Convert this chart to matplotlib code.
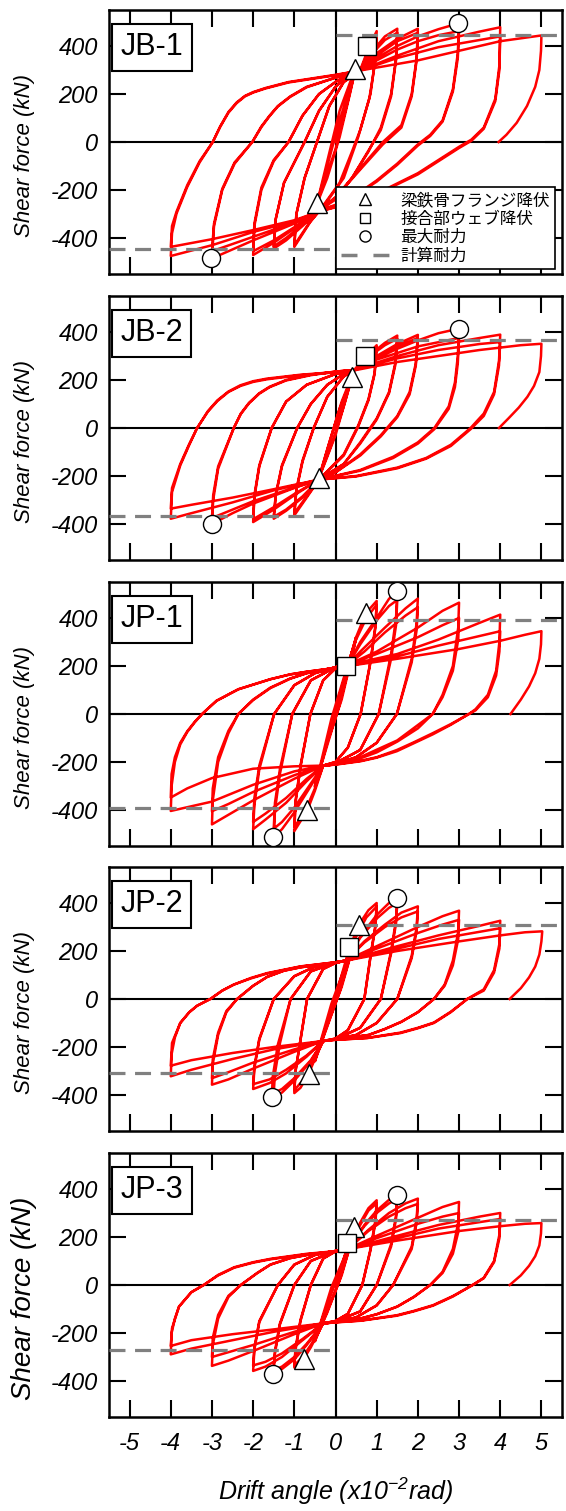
import matplotlib
matplotlib.use("Agg")
import matplotlib.pyplot as plt
from matplotlib.lines import Line2D

plt.rcParams["font.family"] = ["Liberation Sans", "Noto Sans CJK JP"]
plt.rcParams["axes.unicode_minus"] = False
plt.rcParams["mathtext.fontset"] = "custom"
plt.rcParams["mathtext.rm"] = "Liberation Sans:italic"
plt.rcParams["mathtext.it"] = "Liberation Sans:italic"

# ---- data: (drift angle x1e-2 rad, shear force kN) ----

JB1_PATH = [
    (0, 0), (0.2, 130), (0.48, 300),
    (0.35, 200), (0.1, 20), (-0.2, -150), (-0.45, -258),
    (-0.2, -100), (0.1, 90), (0.48, 298),
    (0.3, 170), (0.0, -30), (-0.45, -255),
    # 1%
    (-0.2, -80), (0.1, 130), (0.4, 270), (0.6, 300), (0.8, 390), (1.0, 462),
    (0.97, 350), (0.85, 200), (0.6, 50), (0.4, -40), (0.1, -170), (-0.3, -265), (-0.6, -330), (-1.0, -437),
    (-0.95, -300), (-0.75, -150), (-0.45, 0), (-0.15, 150), (0.2, 250), (0.6, 295), (0.8, 380), (1.0, 445),
    (0.96, 330), (0.82, 180), (0.55, 20), (0.2, -150), (-0.3, -270), (-0.65, -340), (-1.0, -430),
    # 1.5%
    (-0.95, -300), (-0.75, -150), (-0.45, 0), (-0.15, 150), (0.2, 250), (0.6, 298), (0.9, 380), (1.2, 440), (1.5, 472),
    (1.47, 350), (1.35, 200), (1.1, 60), (0.8, -40), (0.4, -150), (0.0, -240), (-0.4, -285), (-0.8, -350), (-1.2, -410), (-1.5, -444),
    (-1.45, -320), (-1.25, -170), (-0.75, 0), (-0.4, 130), (0.0, 230), (0.3, 275), (0.6, 298), (0.9, 370), (1.2, 425), (1.5, 455),
    (1.47, 340), (1.35, 190), (1.1, 50), (0.75, -50), (0.4, -150), (0.0, -235), (-0.4, -285), (-0.8, -345), (-1.2, -400), (-1.5, -435),
    # 2%
    (-1.45, -320), (-1.25, -170), (-0.75, 0), (-0.4, 130), (0.0, 230), (0.3, 275), (0.6, 298), (1.0, 370), (1.5, 430), (2.0, 472),
    (1.97, 350), (1.85, 200), (1.6, 70), (1.15, 0), (0.6, -110), (0.0, -230), (-0.4, -285), (-1.0, -360), (-1.5, -420), (-2.0, -471),
    (-1.97, -350), (-1.8, -200), (-1.5, -80), (-1.14, 0), (-0.8, 110), (-0.4, 200), (0.0, 250), (0.3, 280), (0.6, 298), (1.0, 360), (1.5, 420), (2.0, 455),
    (1.97, 340), (1.85, 190), (1.6, 60), (1.15, -10), (0.6, -115), (0.0, -232), (-0.4, -285), (-1.0, -355), (-1.5, -410), (-2.0, -455),
    # 3%
    (-1.97, -340), (-1.8, -190), (-1.5, -75), (-1.14, 0), (-0.8, 110), (-0.4, 200), (0.0, 250), (0.3, 280), (0.6, 298), (1.0, 350), (1.5, 400), (2.0, 440), (2.5, 470), (3.0, 495),
    (2.97, 370), (2.85, 220), (2.6, 90), (2.3, 30), (2.0, -10), (1.5, -90), (1.0, -160), (0.5, -220), (0.0, -262), (-0.4, -285), (-1.0, -340), (-2.0, -410), (-3.0, -485),
    (-2.95, -350), (-2.75, -200), (-2.45, -90), (-2.02, 0), (-1.8, 65), (-1.6, 110), (-1.4, 150), (-1.1, 190), (-0.7, 230), (0.0, 268), (0.6, 298), (1.0, 340), (1.5, 385), (2.0, 420), (2.5, 445), (3.0, 462),
    (2.97, 350), (2.85, 210), (2.6, 85), (2.3, 25), (2.0, -15), (1.5, -95), (1.0, -165), (0.5, -222), (0.0, -265), (-0.4, -287), (-1.0, -335), (-2.0, -395), (-3.0, -455),
    # 4%
    (-2.95, -340), (-2.75, -195), (-2.45, -85), (-2.02, 0), (-1.8, 62), (-1.6, 108), (-1.4, 148), (-1.1, 188), (-0.7, 228), (0.0, 268), (0.6, 298), (1.5, 360), (2.5, 420), (3.5, 460), (4.0, 478),
    (3.98, 320), (3.88, 180), (3.6, 60), (3.3, 10), (3.0, -20), (2.5, -75), (2.0, -130), (1.0, -215), (0.0, -270), (-0.4, -290), (-1.0, -330), (-2.0, -375), (-3.0, -430), (-4.0, -475),
    (-3.97, -380), (-3.86, -298), (-3.6, -187), (-3.3, -85), (-2.98, 0), (-2.8, 65), (-2.6, 125), (-2.4, 165), (-2.2, 192), (-2.0, 208), (-1.7, 225), (-1.14, 250), (0.0, 280), (0.6, 298), (1.5, 350), (2.5, 395), (3.5, 425), (4.0, 440),
    (3.98, 300), (3.88, 170), (3.6, 55), (3.3, 5), (3.0, -25), (2.5, -80), (2.0, -135), (1.0, -218), (0.0, -272), (-0.4, -290), (-1.0, -326), (-2.0, -367), (-3.0, -405), (-4.0, -437),
    # 5%
    (-3.97, -350), (-3.86, -290), (-3.6, -180), (-3.3, -80), (-2.98, 0), (-2.8, 63), (-2.6, 122), (-2.4, 162), (-2.2, 190), (-2.0, 206), (-1.7, 223), (-1.14, 248), (0.0, 278), (0.6, 298), (2.0, 340), (3.0, 380), (4.0, 420), (5.0, 444),
    (4.99, 380), (4.95, 300), (4.85, 230), (4.65, 150), (4.4, 80), (4.15, 30), (3.96, 0),
]

JB2_PATH = [
    (0, 0), (0.2, 110), (0.4, 212),
    (0.25, 120), (0.0, -30), (-0.2, -120), (-0.4, -208),
    (-0.2, -90), (0.1, 80), (0.4, 210),
    (0.2, 90), (-0.1, -70), (-0.4, -205),
    # 1%
    (-0.15, -60), (0.15, 110), (0.45, 240), (0.7, 290), (1.0, 345),
    (0.95, 230), (0.8, 120), (0.55, 10), (0.2, -110), (-0.4, -215), (-0.7, -290), (-1.0, -364),
    (-0.95, -260), (-0.8, -140), (-0.53, 0), (-0.2, 130), (0.2, 215), (0.45, 240), (0.7, 285), (1.0, 335),
    (0.95, 225), (0.8, 115), (0.55, 5), (0.2, -115), (-0.4, -215), (-0.7, -285), (-1.0, -355),
    # 1.5%
    (-0.95, -255), (-0.8, -135), (-0.53, 0), (-0.2, 130), (0.2, 215), (0.45, 240), (0.8, 300), (1.2, 355), (1.5, 385),
    (1.45, 270), (1.3, 150), (1.0, 40), (0.6, -60), (0.2, -150), (-0.4, -215), (-0.8, -290), (-1.2, -345), (-1.5, -378),
    (-1.45, -280), (-1.3, -160), (-0.93, 0), (-0.6, 100), (-0.2, 180), (0.2, 225), (0.45, 240), (0.8, 295), (1.2, 345), (1.5, 372),
    (1.45, 260), (1.3, 145), (1.0, 35), (0.6, -65), (0.2, -150), (-0.4, -215), (-0.8, -285), (-1.2, -340), (-1.5, -370),
    # 2%
    (-1.45, -275), (-1.3, -155), (-0.93, 0), (-0.6, 100), (-0.2, 180), (0.2, 225), (0.45, 240), (0.9, 290), (1.5, 350), (2.0, 388),
    (1.95, 270), (1.8, 150), (1.5, 50), (1.1, -30), (0.6, -110), (0.0, -185), (-0.4, -215), (-1.0, -280), (-1.5, -340), (-2.0, -392),
    (-1.97, -290), (-1.85, -160), (-1.55, 0), (-1.2, 110), (-0.7, 180), (0.0, 225), (0.45, 240), (0.9, 285), (1.5, 340), (2.0, 375),
    (1.95, 260), (1.8, 140), (1.5, 45), (1.1, -35), (0.6, -115), (0.0, -185), (-0.4, -215), (-1.0, -275), (-1.5, -330), (-2.0, -380),
    # 3%
    (-1.97, -280), (-1.85, -155), (-1.55, 0), (-1.2, 110), (-0.7, 180), (0.0, 225), (0.45, 240), (1.0, 290), (1.5, 330), (2.0, 365), (2.5, 395), (3.0, 414),
    (2.97, 300), (2.9, 190), (2.75, 90), (2.4, 0), (2.0, -60), (1.4, -120), (0.6, -175), (-0.4, -215), (-1.0, -250), (-2.0, -315), (-2.5, -355), (-3.0, -400),
    (-2.97, -300), (-2.85, -170), (-2.47, 0), (-2.3, 60), (-2.1, 105), (-1.85, 145), (-1.6, 172), (-1.2, 200), (-0.6, 222), (0.0, 235), (0.45, 242), (1.0, 285), (2.0, 340), (3.0, 375),
    (2.97, 270), (2.9, 170), (2.75, 80), (2.4, -5), (2.0, -65), (1.4, -125), (0.6, -178), (-0.4, -215), (-1.0, -248), (-2.0, -305), (-3.0, -375),
    # 4%
    (-2.97, -280), (-2.85, -160), (-2.47, 0), (-2.3, 58), (-2.1, 103), (-1.85, 143), (-1.6, 170), (-1.2, 198), (-0.6, 220), (0.0, 235), (0.45, 242), (1.5, 300), (2.5, 345), (3.5, 375), (4.0, 389),
    (3.97, 280), (3.85, 150), (3.6, 60), (3.28, 0), (2.8, -70), (2.2, -125), (1.5, -165), (0.5, -200), (-0.4, -215), (-1.5, -260), (-2.5, -310), (-3.5, -355), (-4.0, -378),
    (-3.97, -267), (-3.77, -156), (-3.55, -70), (-3.36, 0), (-3.1, 70), (-2.87, 115), (-2.6, 152), (-2.31, 178), (-2.0, 195), (-1.66, 206), (-0.85, 222), (0.0, 233), (0.45, 242), (1.5, 290), (2.5, 325), (3.5, 350), (4.0, 358),
    (3.97, 260), (3.85, 140), (3.6, 50), (3.28, -5), (2.8, -75), (2.2, -128), (1.5, -168), (0.5, -202), (-0.4, -215), (-1.5, -255), (-2.5, -290), (-3.5, -320), (-4.0, -336),
    # 5%
    (-3.97, -250), (-3.77, -150), (-3.55, -66), (-3.36, 0), (-3.1, 68), (-2.87, 112), (-2.6, 150), (-2.31, 175), (-2.0, 192), (-1.66, 203), (-0.85, 220), (0.0, 232), (0.45, 240), (1.5, 275), (2.5, 300), (3.5, 325), (4.5, 345), (5.0, 351),
    (4.99, 300), (4.95, 233), (4.82, 175), (4.66, 130), (4.45, 85), (4.2, 40), (3.97, 0),
]

JP1_PATH = [
    (0, 0), (0.25, 170), (0.5, 320),
    (0.4, 240), (0.15, 60), (-0.2, -120), (-0.5, -305),
    (-0.35, -200), (-0.1, -20), (0.2, 150), (0.5, 315),
    (0.38, 230), (0.1, 40), (-0.2, -130), (-0.5, -300),
    # 1%
    (-0.3, -180), (0.0, 20), (0.3, 200), (0.5, 320), (0.74, 421), (1.0, 471),
    (0.97, 370), (0.85, 220), (0.61, 0), (0.3, -140), (0.0, -200), (-0.3, -215), (-0.5, -320), (-0.68, -400), (-1.0, -488),
    (-0.97, -370), (-0.85, -220), (-0.61, 0), (-0.3, 140), (0.0, 190), (0.3, 205), (0.5, 310), (0.75, 400), (1.0, 455),
    (0.97, 360), (0.85, 215), (0.61, 0), (0.3, -140), (0.0, -200), (-0.3, -215), (-0.5, -310), (-0.75, -410), (-1.0, -470),
    # 1.5%
    (-0.97, -360), (-0.85, -215), (-0.61, 0), (-0.3, 140), (0.0, 190), (0.3, 205), (0.6, 300), (1.0, 400), (1.3, 480), (1.5, 513),
    (1.47, 400), (1.35, 250), (1.05, 0), (0.6, -150), (0.0, -205), (-0.3, -215), (-0.6, -300), (-1.0, -410), (-1.3, -480), (-1.5, -512),
    (-1.47, -400), (-1.35, -250), (-1.05, 0), (-0.6, 140), (0.0, 195), (0.3, 205), (0.6, 290), (1.0, 390), (1.3, 450), (1.5, 475),
    (1.47, 370), (1.35, 230), (1.05, 0), (0.6, -150), (0.0, -205), (-0.3, -215), (-0.6, -290), (-1.0, -390), (-1.3, -450), (-1.5, -478),
    # 2%
    (-1.47, -370), (-1.35, -230), (-1.05, 0), (-0.6, 140), (0.0, 195), (0.3, 205), (0.6, 260), (1.2, 360), (1.7, 440), (2.0, 481),
    (1.97, 380), (1.85, 230), (1.49, 0), (1.0, -120), (0.5, -180), (0.0, -208), (-0.3, -215), (-0.7, -280), (-1.2, -370), (-1.7, -440), (-2.0, -480),
    (-1.97, -380), (-1.85, -230), (-1.49, 0), (-1.0, 120), (-0.5, 170), (0.0, 195), (0.3, 205), (0.7, 260), (1.2, 340), (1.7, 410), (2.0, 445),
    (1.97, 350), (1.85, 215), (1.49, 0), (1.0, -120), (0.5, -180), (0.0, -208), (-0.3, -215), (-0.7, -270), (-1.2, -350), (-1.7, -415), (-2.0, -450),
    # 3%
    (-1.97, -350), (-1.85, -215), (-1.49, 0), (-1.0, 120), (-0.5, 170), (0.0, 195), (0.3, 205), (1.0, 260), (2.0, 360), (2.6, 430), (3.0, 464),
    (2.98, 360), (2.85, 200), (2.6, 80), (2.36, 0), (1.5, -110), (0.6, -180), (0.0, -210), (-0.3, -215), (-1.0, -270), (-2.0, -360), (-2.6, -420), (-3.0, -460),
    (-2.98, -360), (-2.85, -200), (-2.6, -80), (-2.36, 0), (-2.0, 60), (-1.58, 110), (-1.1, 148), (-0.7, 170), (0.0, 194), (0.3, 205), (1.0, 250), (2.0, 320), (2.6, 370), (3.0, 400),
    (2.98, 310), (2.85, 180), (2.6, 70), (2.36, 0), (2.0, -60), (1.5, -115), (1.0, -160), (0.6, -185), (0.0, -210), (-0.3, -215), (-1.0, -255), (-2.0, -325), (-2.6, -375), (-3.0, -405),
    # 4%
    (-2.98, -310), (-2.85, -180), (-2.6, -70), (-2.36, 0), (-2.0, 58), (-1.58, 108), (-1.1, 147), (-0.7, 170), (0.0, 194), (0.3, 205), (1.5, 250), (2.5, 310), (3.5, 380), (4.0, 414),
    (3.98, 300), (3.9, 180), (3.7, 80), (3.4, 20), (3.24, 0), (2.8, -45), (2.36, -85), (1.9, -122), (1.49, -155), (1.0, -182), (0.61, -197), (0.0, -211), (-0.3, -215), (-1.0, -239), (-2.0, -295), (-3.0, -365), (-4.0, -404),
    (-3.98, -300), (-3.9, -200), (-3.77, -127), (-3.6, -75), (-3.42, -35), (-3.24, 0), (-2.89, 55), (-2.36, 103), (-1.9, 128), (-1.58, 145), (-1.1, 165), (-0.7, 176), (0.0, 192), (0.3, 200), (1.5, 240), (2.5, 285), (3.5, 325), (4.0, 345),
    (3.98, 260), (3.9, 160), (3.7, 70), (3.4, 15), (3.24, 0), (2.8, -42), (2.36, -80), (1.9, -118), (1.49, -150), (1.0, -180), (0.61, -195), (0.0, -210), (-0.3, -215), (-1.0, -218), (-2.0, -228), (-3.0, -267), (-3.6, -310), (-4.0, -348),
    # 5%
    (-3.98, -250), (-3.9, -180), (-3.77, -120), (-3.6, -72), (-3.42, -33), (-3.24, 0), (-2.89, 55), (-2.36, 103), (-1.9, 128), (-1.58, 145), (-1.1, 165), (-0.7, 176), (0.0, 192), (0.3, 200), (1.5, 230), (3.0, 271), (4.0, 305), (4.6, 330), (5.0, 345),
    (4.99, 290), (4.95, 230), (4.85, 170), (4.7, 115), (4.5, 60), (4.25, 0),
]

JP2_PATH = [
    (0, 0), (0.25, 140), (0.5, 270),
    (0.4, 200), (0.15, 50), (-0.2, -110), (-0.5, -260),
    (-0.35, -170), (-0.1, -20), (0.2, 120), (0.5, 265),
    (0.38, 190), (0.1, 30), (-0.2, -115), (-0.5, -255),
    # 1%
    (-0.3, -150), (0.0, 10), (0.25, 160), (0.45, 260), (0.57, 310), (0.8, 370), (1.0, 400),
    (0.97, 310), (0.85, 180), (0.7, 0), (0.3, -130), (0.0, -165), (-0.3, -175), (-0.5, -250), (-0.65, -311), (-0.85, -370), (-1.0, -392),
    (-0.97, -300), (-0.85, -170), (-0.69, 0), (-0.3, 125), (0.0, 150), (0.25, 160), (0.5, 260), (0.75, 340), (1.0, 385),
    (0.97, 300), (0.85, 175), (0.7, 0), (0.3, -130), (0.0, -165), (-0.3, -175), (-0.5, -245), (-0.75, -330), (-1.0, -380),
    # 1.5%
    (-0.97, -300), (-0.85, -170), (-0.69, 0), (-0.3, 125), (0.0, 150), (0.25, 160), (0.6, 260), (1.0, 350), (1.3, 400), (1.5, 421),
    (1.47, 330), (1.35, 200), (1.1, 0), (0.6, -120), (0.0, -168), (-0.3, -175), (-0.6, -260), (-1.0, -340), (-1.3, -390), (-1.55, -408),
    (-1.52, -320), (-1.4, -190), (-1.09, 0), (-0.6, 115), (0.0, 152), (0.25, 160), (0.6, 255), (1.0, 335), (1.3, 380), (1.5, 400),
    (1.47, 315), (1.35, 190), (1.1, 0), (0.6, -120), (0.0, -168), (-0.3, -175), (-0.6, -255), (-1.0, -330), (-1.3, -375), (-1.5, -392),
    # 2%
    (-1.47, -310), (-1.35, -185), (-1.09, 0), (-0.6, 115), (0.0, 152), (0.25, 160), (0.7, 240), (1.2, 310), (1.6, 360), (2.0, 386),
    (1.97, 300), (1.85, 180), (1.5, 0), (1.0, -100), (0.5, -150), (0.0, -168), (-0.3, -175), (-0.7, -240), (-1.2, -310), (-1.6, -350), (-2.0, -375),
    (-1.97, -290), (-1.85, -170), (-1.5, 0), (-1.0, 95), (-0.5, 135), (0.0, 152), (0.25, 160), (0.7, 235), (1.2, 300), (1.6, 340), (2.0, 365),
    (1.97, 285), (1.85, 170), (1.5, 0), (1.0, -100), (0.5, -150), (0.0, -168), (-0.3, -175), (-0.7, -235), (-1.2, -295), (-1.6, -335), (-2.0, -355),
    # 3%
    (-1.97, -280), (-1.85, -165), (-1.5, 0), (-1.0, 95), (-0.5, 135), (0.0, 152), (0.25, 160), (1.0, 220), (2.0, 300), (2.6, 345), (3.0, 368),
    (2.98, 280), (2.85, 160), (2.65, 60), (2.39, 0), (2.0, -55), (1.6, -95), (1.2, -125), (0.8, -150), (0.0, -168), (-0.3, -175), (-1.0, -220), (-2.0, -290), (-2.6, -335), (-3.0, -357),
    (-2.98, -270), (-2.85, -150), (-2.65, -55), (-2.39, 0), (-2.0, 55), (-1.66, 92), (-1.25, 118), (-0.85, 132), (0.0, 152), (0.25, 160), (1.0, 210), (2.0, 275), (2.6, 310), (3.0, 330),
    (2.98, 250), (2.85, 140), (2.65, 55), (2.39, 0), (2.0, -55), (1.6, -95), (1.2, -125), (0.8, -150), (0.0, -168), (-0.3, -175), (-1.0, -210), (-2.0, -265), (-2.6, -305), (-3.0, -330),
    # 4%
    (-2.98, -250), (-2.85, -140), (-2.65, -50), (-2.39, 0), (-2.0, 55), (-1.66, 92), (-1.25, 118), (-0.85, 132), (0.0, 152), (0.25, 160), (1.5, 220), (2.5, 265), (3.5, 305), (4.0, 326),
    (3.98, 230), (3.85, 120), (3.6, 40), (3.2, 0), (2.8, -55), (2.39, -100), (2.0, -122), (1.58, -142), (0.77, -163), (0.0, -170), (-0.3, -175), (-1.5, -210), (-2.5, -250), (-3.5, -295), (-4.0, -322),
    (-3.98, -230), (-3.9, -160), (-3.77, -100), (-3.55, -55), (-3.36, -28), (-3.04, 0), (-2.75, 35), (-2.47, 60), (-2.05, 88), (-1.66, 108), (-0.85, 136), (0.0, 153), (0.25, 160), (1.5, 210), (2.5, 250), (3.5, 280), (4.0, 295),
    (3.98, 210), (3.85, 110), (3.6, 35), (3.2, 0), (2.8, -53), (2.39, -98), (2.0, -120), (1.58, -140), (0.77, -162), (0.0, -170), (-0.3, -175), (-1.5, -200), (-2.5, -225), (-3.5, -255), (-4.0, -278),
    # 5%
    (-3.97, -183), (-3.77, -100), (-3.55, -55), (-3.36, -28), (-3.04, 0), (-2.75, 35), (-2.47, 60), (-2.05, 86), (-1.66, 106), (-0.85, 135), (0.0, 153), (0.25, 160), (1.5, 200), (3.0, 240), (4.0, 265), (4.6, 278), (5.02, 282),
    (5.0, 240), (4.95, 185), (4.85, 135), (4.7, 90), (4.5, 45), (4.23, 0),
]

JP3_PATH = [
    (0, 0), (0.2, 110), (0.44, 241), (0.5, 255),
    (0.4, 190), (0.15, 40), (-0.2, -110), (-0.5, -235),
    (-0.35, -150), (-0.1, -10), (0.2, 110), (0.5, 250),
    (0.38, 175), (0.1, 20), (-0.2, -115), (-0.5, -230),
    # 1%
    (-0.3, -130), (0.0, 10), (0.3, 150), (0.6, 260), (0.8, 320), (1.0, 353),
    (0.97, 270), (0.85, 150), (0.65, 0), (0.3, -120), (0.0, -150), (-0.3, -160), (-0.6, -260), (-0.77, -307), (-1.0, -344),
    (-0.97, -270), (-0.85, -150), (-0.6, 0), (-0.3, 110), (0.0, 140), (0.3, 150), (0.6, 250), (0.8, 310), (1.0, 340),
    (0.97, 260), (0.85, 145), (0.65, 0), (0.3, -120), (0.0, -150), (-0.3, -160), (-0.6, -250), (-0.8, -300), (-1.0, -335),
    # 1.5%
    (-0.97, -260), (-0.85, -145), (-0.6, 0), (-0.3, 110), (0.0, 140), (0.3, 150), (0.7, 250), (1.0, 310), (1.3, 355), (1.5, 376),
    (1.47, 290), (1.35, 170), (1.0, 0), (0.6, -110), (0.0, -152), (-0.3, -160), (-0.7, -250), (-1.0, -310), (-1.3, -350), (-1.52, -372),
    (-1.47, -285), (-1.35, -165), (-1.0, 0), (-0.6, 100), (0.0, 142), (0.3, 150), (0.7, 245), (1.0, 300), (1.3, 340), (1.5, 358),
    (1.47, 275), (1.35, 160), (1.0, 0), (0.6, -110), (0.0, -152), (-0.3, -160), (-0.7, -245), (-1.0, -300), (-1.3, -340), (-1.5, -355),
    # 2%
    (-1.47, -275), (-1.35, -160), (-1.0, 0), (-0.6, 100), (0.0, 142), (0.3, 150), (0.8, 230), (1.3, 300), (1.7, 340), (2.0, 360),
    (1.97, 275), (1.85, 160), (1.4, 0), (1.0, -85), (0.5, -135), (0.0, -154), (-0.3, -160), (-0.8, -230), (-1.3, -300), (-1.7, -340), (-2.0, -358),
    (-1.97, -270), (-1.85, -155), (-1.4, 0), (-1.0, 85), (-0.5, 125), (0.0, 142), (0.3, 150), (0.8, 225), (1.3, 285), (1.7, 320), (2.0, 338),
    (1.97, 260), (1.85, 150), (1.4, 0), (1.0, -85), (0.5, -135), (0.0, -154), (-0.3, -160), (-0.8, -225), (-1.3, -285), (-1.7, -320), (-2.0, -335),
    # 3%
    (-1.97, -260), (-1.85, -150), (-1.4, 0), (-1.0, 85), (-0.5, 125), (0.0, 142), (0.3, 150), (1.0, 205), (2.0, 280), (2.6, 325), (3.0, 346),
    (2.98, 260), (2.85, 150), (2.6, 55), (2.3, 0), (1.9, -50), (1.5, -90), (1.0, -122), (0.6, -140), (0.0, -155), (-0.3, -160), (-1.0, -205), (-2.0, -275), (-2.6, -315), (-3.0, -337),
    (-2.98, -250), (-2.85, -140), (-2.6, -50), (-2.3, 0), (-1.9, 50), (-1.58, 85), (-1.1, 112), (-0.7, 125), (0.0, 141), (0.3, 150), (1.0, 195), (2.0, 255), (2.6, 285), (3.0, 300),
    (2.98, 220), (2.85, 130), (2.6, 50), (2.3, 0), (1.9, -50), (1.5, -90), (1.0, -122), (0.6, -140), (0.0, -155), (-0.3, -160), (-1.0, -195), (-2.0, -250), (-2.6, -280), (-3.0, -300),
    # 4%
    (-2.98, -220), (-2.85, -125), (-2.6, -45), (-2.3, 0), (-1.9, 50), (-1.58, 85), (-1.1, 112), (-0.7, 125), (0.0, 141), (0.3, 150), (1.5, 205), (2.5, 250), (3.5, 285), (4.0, 300),
    (3.98, 210), (3.85, 100), (3.6, 30), (3.33, 0), (2.85, -48), (2.37, -86), (1.9, -110), (1.49, -128), (0.61, -149), (0.0, -156), (-0.3, -160), (-1.5, -195), (-2.5, -230), (-3.5, -265), (-4.0, -289),
    (-3.98, -200), (-3.9, -140), (-3.8, -90), (-3.5, -30), (-3.2, 0), (-2.85, 42), (-2.46, 74), (-2.0, 95), (-1.58, 109), (-0.7, 130), (0.0, 141), (0.3, 150), (1.5, 195), (2.5, 235), (3.5, 262), (4.0, 275),
    (3.98, 195), (3.85, 95), (3.6, 28), (3.33, 0), (2.85, -46), (2.37, -84), (1.9, -108), (1.49, -126), (0.61, -148), (0.0, -155), (-0.3, -160), (-1.5, -185), (-2.5, -205), (-3.5, -230), (-4.0, -254),
    # 5%
    (-3.97, -180), (-3.8, -90), (-3.5, -30), (-3.2, 0), (-2.85, 40), (-2.46, 72), (-2.0, 93), (-1.58, 107), (-0.7, 128), (0.0, 140), (0.3, 150), (1.5, 185), (3.0, 225), (4.0, 245), (4.6, 255), (5.0, 258),
    (4.99, 215), (4.95, 165), (4.85, 120), (4.7, 80), (4.5, 40), (4.23, 0),
]

# calculated strength (kN), +/- level
CALC = [447, 367, 390, 307, 270]

# event markers
TRI = [[(0.48, 305), (-0.44, -256)],
       [(0.40, 212), (-0.40, -208)],
       [(0.74, 421), (-0.68, -400)],
       [(0.57, 310), (-0.65, -311)],
       [(0.44, 241), (-0.77, -307)]]
SQR = [[(0.77, 398)], [(0.71, 300)], [(0.26, 201)], [(0.32, 217)], [(0.28, 174)]]
CIR = [[(2.98, 495), (-3.03, -485)],
       [(3.0, 414), (-3.0, -400)],
       [(1.49, 513), (-1.51, -512)],
       [(1.5, 421), (-1.55, -408)],
       [(1.49, 376), (-1.52, -372)]]

NAMES = ["JB-1", "JB-2", "JP-1", "JP-2", "JP-3"]
PATHS = [JB1_PATH, JB2_PATH, JP1_PATH, JP2_PATH, JP3_PATH]

LEGEND_LABELS = ["梁鉄骨フランジ降伏", "接合部ウェブ降伏", "最大耐力", "計算耐力"]

XTICKS = [-5, -4, -3, -2, -1, 0, 1, 2, 3, 4, 5]
YTICKS = [-400, -200, 0, 200, 400]

# ---- figure ----
W, H = 566, 1511
fig = plt.figure(figsize=(W / 100, H / 100), dpi=100)

bottoms = [274, 560, 846, 1131, 1417]
ph = 264
axes = []
for i in range(5):
    ax = fig.add_axes([109 / W, 1 - bottoms[i] / H, 453 / W, ph / H])
    axes.append(ax)

mk = dict(mfc="white", mec="black", mew=1.0, ls="none", zorder=6)

for i, ax in enumerate(axes):
    xs = [p[0] for p in PATHS[i]]
    ys = [p[1] for p in PATHS[i]]
    ax.plot(xs, ys, color="#ff0000", lw=1.8, zorder=3, solid_joinstyle="round")

    ax.axhline(0, color="black", lw=1.5, zorder=2)
    ax.axvline(0, color="black", lw=1.5, zorder=2)

    c = CALC[i]
    ax.hlines(c, 0, 5.5, color="#808080", lw=2.3, linestyles=(0, (5, 3)), zorder=4)
    ax.hlines(-c, -5.5, 0, color="#808080", lw=2.3, linestyles=(0, (5, 3)), zorder=4)

    ax.plot([p[0] for p in TRI[i]], [p[1] for p in TRI[i]], marker="^", ms=14, **mk)
    ax.plot([p[0] for p in SQR[i]], [p[1] for p in SQR[i]], marker="s", ms=13, **mk)
    ax.plot([p[0] for p in CIR[i]], [p[1] for p in CIR[i]], marker="o", ms=13, **mk)

    ax.set_xlim(-5.5, 5.5)
    ax.set_ylim(-550, 550)
    ax.set_xticks(XTICKS)
    ax.set_yticks(YTICKS)
    ax.tick_params(direction="in", length=12, width=1.5, top=True, right=True,
                   labelsize=17, pad=8)
    ax.tick_params(axis="x", pad=11)
    for lbl in ax.get_xticklabels() + ax.get_yticklabels():
        lbl.set_style("italic")
    if i < 4:
        ax.tick_params(labelbottom=False)
    for s in ax.spines.values():
        s.set_linewidth(1.8)

    if i == 4:
        ax.set_ylabel("Shear force (kN)", fontsize=20, style="italic")
        ax.yaxis.set_label_coords(-0.158, 0.45)
    else:
        ax.set_ylabel("Shear force (kN)", fontsize=16, style="italic")
        ax.yaxis.set_label_coords(-0.163, 0.45)

    ax.text(0.094, 0.858, NAMES[i], transform=ax.transAxes, fontsize=22,
            ha="center", va="center", zorder=7,
            bbox=dict(boxstyle="square,pad=0.28", fc="white", ec="black", lw=1.5))

xl = axes[4].set_xlabel("Drift angle (x10$^{-2}$rad)", fontsize=18, style="italic")
xl.set_verticalalignment("center")
axes[4].xaxis.set_label_coords(0.5, -0.28)

handles = [
    Line2D([], [], marker="^", ms=8, mfc="white", mec="black", mew=1, ls="none"),
    Line2D([], [], marker="s", ms=7.5, mfc="white", mec="black", mew=1, ls="none"),
    Line2D([], [], marker="o", ms=8, mfc="white", mec="black", mew=1, ls="none"),
    Line2D([], [], color="#808080", lw=2.5, ls=(0, (4.6, 4.6))),
]
leg = axes[0].legend(handles, LEGEND_LABELS, loc="lower right",
                     bbox_to_anchor=(0.985, 0.019), fontsize=12, frameon=True,
                     fancybox=False, edgecolor="black", framealpha=1,
                     borderpad=0.3, labelspacing=0.2, handlelength=2.9,
                     handletextpad=0.7, borderaxespad=0)
leg.get_frame().set_linewidth(1.2)
leg.set_zorder(10)

fig.savefig("out.png", dpi=100)
